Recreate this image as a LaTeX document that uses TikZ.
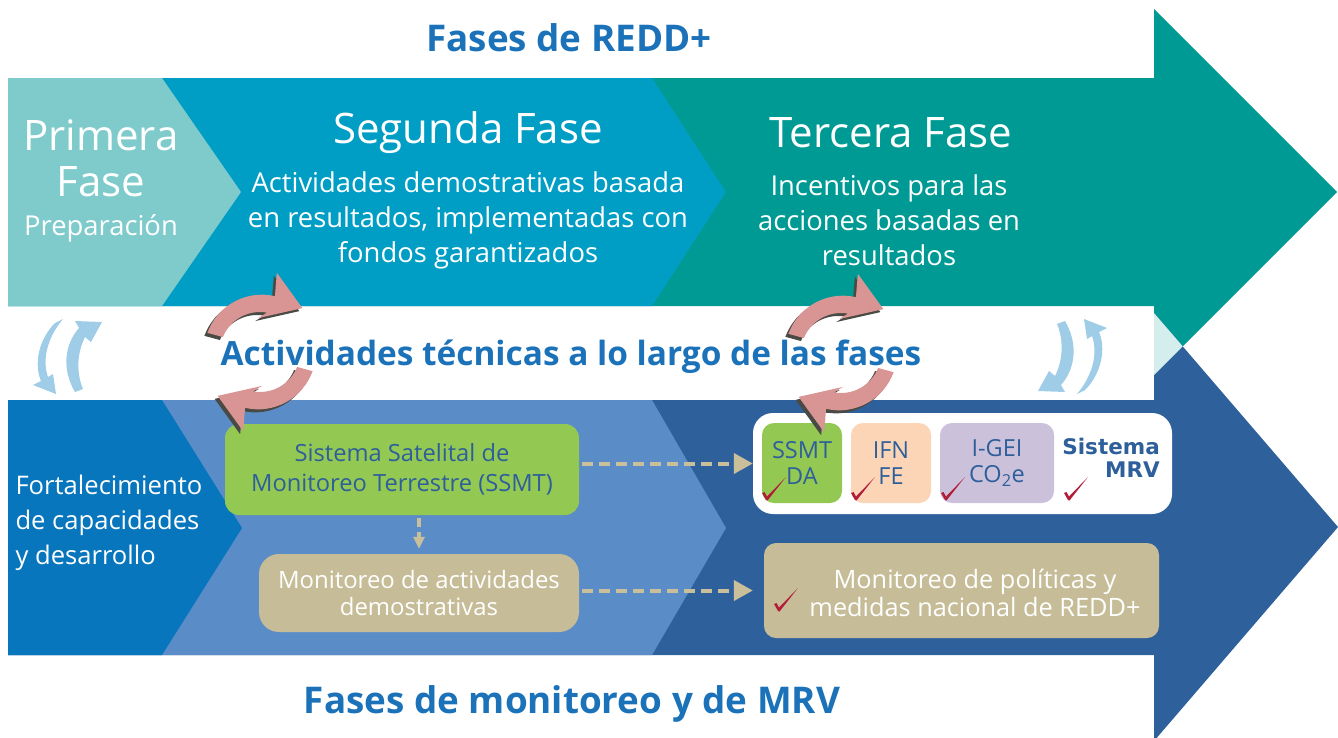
\documentclass[tikz,border=0pt]{standalone}
\usepackage{fontspec}
\setmainfont{Open Sans}
\newfontfamily\mrvfont{DejaVu Sans}
\usetikzlibrary{positioning,arrows.meta,calc}
\definecolor{primera}{HTML}{7FCBCC}
\definecolor{segunda}{HTML}{009DC4}
\definecolor{tercera}{HTML}{009A94}
\definecolor{overlap}{HTML}{D4EDED}
\definecolor{capblue}{HTML}{0876BD}
\definecolor{midblue}{HTML}{5A8CC8}
\definecolor{mrvblue}{HTML}{2E609B}
\definecolor{boxgreen}{HTML}{93C852}
\definecolor{boxtan}{HTML}{C6BD98}
\definecolor{boxpeach}{HTML}{FCD5B6}
\definecolor{boxlilac}{HTML}{CBC1DB}
\definecolor{textblue}{HTML}{2E5F9B}
\definecolor{titleblue}{HTML}{1B72B9}
\definecolor{checkred}{HTML}{B21E3A}
\definecolor{pinkarrow}{HTML}{D99494}
\definecolor{pinkshadow}{HTML}{4A4A44}
\definecolor{lightarrow}{HTML}{9FCCE6}
\definecolor{dashtan}{HTML}{C9C09B}

\begin{document}
\begin{tikzpicture}[x=1pt, y=-1pt,
    phase/.style={text=white, align=center, font=\fontsize{42}{46}\selectfont},
    phasesub/.style={text=white, align=center, font=\fontsize{27.4}{35}\selectfont},
    bigtitle/.style={text=titleblue, font=\fontsize{36.8}{40}\selectfont\bfseries},
    card/.style={rounded corners=14pt, inner sep=0pt, align=center},
    mrvpart/.style={card, rounded corners=12pt, text=textblue, minimum height=80pt,
        font=\fontsize{23.5}{26}\selectfont},
    dasharrow/.style={dashtan, line width=4pt, dash pattern=on 11pt off 6pt,
        -{Triangle[length=19pt, width=20pt]}}]

    \useasboundingbox (0,0) rectangle (1338,737);
    \clip (0,0) rectangle (1338,737);

    % Upper band: REDD+ phases
    \fill[tercera] (8,78) -- (1154,78) -- (1154,9) -- (1337,192) -- (1154,375) -- (1154,306) -- (8,306) -- cycle;
    \fill[segunda] (8,78) -- (652,78) -- (726,192) -- (652,306) -- (8,306) -- cycle;
    \fill[primera] (8,78) -- (162,78) -- (241,192) -- (162,306) -- (8,306) -- cycle;

    % Lower band: monitoring and MRV
    \fill[mrvblue] (8,400) -- (1154,400) -- (1154,313) -- (1338,527) -- (1154,741) -- (1154,655) -- (8,655) -- cycle;
    \fill[midblue] (8,400) -- (652,400) -- (726,528) -- (652,655) -- (8,655) -- cycle;
    \fill[capblue] (8,400) -- (162,400) -- (242,528) -- (162,655) -- (8,655) -- cycle;
    \fill[overlap] (1154,313) -- (1182.7,346.3) -- (1154,375) -- cycle;

    % Titles
    \node[bigtitle] (redd) at (569,38) {Fases de REDD+};
    \node[bigtitle] (mrvphases) at (572,704) {Fases de monitoreo y de MRV};
    \node[text=titleblue, font=\fontsize{33.4}{35}\selectfont\bfseries] (tecnicas) at (571,357)
        {Actividades técnicas a lo largo de las fases};

    % Phase texts
    \node[phase] (fase1) at (101,158) {Primera\\Fase};
    \node[phasesub] (prep) at (101,228) {Preparación};
    \node[phase] (fase2) at (468,133) {Segunda Fase};
    \node[phasesub] (fase2txt) at (468,220)
        {Actividades demostrativas basada\\en resultados, implementadas con\\fondos garantizados};
    \node[phase] (fase3) at (891,133) {Tercera Fase};
    \node[phasesub] (fase3txt) at (889,220) {Incentivos para las\\acciones basadas en\\resultados};
    \node[text=white, align=left, anchor=west, font=\fontsize{25.6}{35}\selectfont] (capacidades)
        at (12,523) {Fortalecimiento\\de capacidades\\y desarrollo};

    % Monitoring boxes
    \node[card, fill=boxgreen, text=textblue, minimum width=354pt, minimum height=91pt,
        font=\fontsize{23.7}{30}\selectfont] (ssmt) at (402,469.5) {Sistema Satelital de\\Monitoreo Terrestre (SSMT)};
    \node[card, rounded corners=20pt, fill=boxtan, text=white, minimum width=320pt, minimum height=78pt,
        font=\fontsize{23.9}{27}\selectfont] (monact) at (419,593) {Monitoreo de actividades\\demostrativas};
    \node[card, rounded corners=12pt, fill=boxtan, minimum width=395pt, minimum height=95pt] (politicas) at (961.5,590.5) {};
    \node[text=white, align=center, font=\fontsize{25.3}{28}\selectfont] (politicastxt) at (975,593)
        {Monitoreo de políticas y\\medidas nacional de REDD+};

    % MRV system
    \node[card, rounded corners=20pt, fill=white, minimum width=419pt, minimum height=101pt] (mrvbox) at (962.5,463.5) {};
    \node[mrvpart, fill=boxgreen, minimum width=80pt] (ssmtda) at (802,463) {SSMT\\DA};
    \node[mrvpart, fill=boxpeach, minimum width=80pt] (ifnfe) at (891,463) {IFN\\FE};
    \node[mrvpart, fill=boxlilac, minimum width=114pt] (igei) at (997,463) {I-GEI\\CO\textsubscript{2}e};
    \node[text=textblue, align=right, anchor=north east, inner sep=0pt,
        font=\mrvfont\bfseries\fontsize{21.5}{23}\selectfont] (sistema) at (1160,438) {Sistema\\MRV};

    % Check marks
    \foreach \cx/\cy in {766/500, 855/500, 945/500, 1068/500, 778/611}
        \fill[checkred, shift={(\cx,\cy)}] (0,0) -- (-4,-7) -- (-1.5,-8) -- (1,-3.5) -- (20,-23) -- (1.5,0.5) -- cycle;

    % Dashed links
    \draw[dasharrow, shorten <=3pt] (ssmt.east |- mrvbox.west) -- (mrvbox.west);
    \draw[dasharrow, shorten <=3pt, shorten >=11pt] (monact.east |- politicas.west) -- (politicas.west);
    \draw[dasharrow, dash pattern=on 9pt off 5pt, -{Triangle[length=12pt, width=11pt]},
        shorten <=3pt, shorten >=5pt] (ssmt.south -| monact.north) -- (monact.north);

    % Light blue turn arrows at both ends of the middle band
    \foreach \rot in {0,180} {
        \begin{scope}[rotate around={\rot:(570,356.5)}]
            \fill[lightarrow] (63,319) -- (55,323) .. controls (38,340) and (34,365) .. (41,381) -- (33,385)
                -- (56,394) -- (53,374) -- (48,377) .. controls (42,360) and (47,338) .. (63,319) -- cycle;
            \fill[lightarrow] (75,392) .. controls (62,370) and (64,345) .. (79,328) -- (75,321) -- (102,322)
                -- (91,342) -- (85,337) .. controls (76,355) and (77,375) .. (83,389) -- cycle;
        \end{scope}
    }

    % Pink cycle arrows with shadow
    \foreach \cx/\cy in {260/352, 841/353}
        \foreach \rot in {0,180}
            \foreach \dx/\dy/\col in {-3/3/pinkshadow, 0/0/pinkarrow}
                \fill[\col, shift={(\cx+\dx,\cy+\dy)}, rotate=\rot] (200:56) arc[start angle=200, end angle=283, radius=58]
                    -- (282:81) -- (314:61) -- (267:34) -- (280:40) arc[start angle=280, end angle=202, radius=40] -- cycle;
\end{tikzpicture}
\end{document}
